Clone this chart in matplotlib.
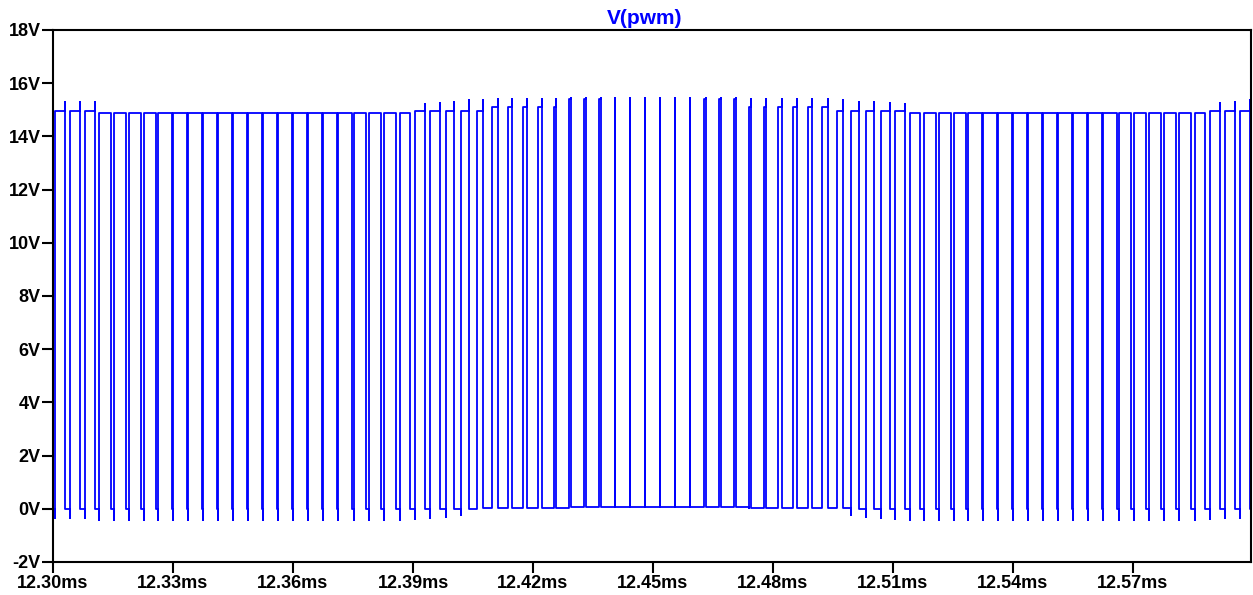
import matplotlib.pyplot as plt
import numpy as np

# waveform window (ms)
t_start = 12.30
t_stop = 12.5995

# switching edges of each pulse, us after t_start
t_rise = [0.53, 4.23, 7.94, 11.59, 15.25, 18.94, 22.66, 26.35, 30.06, 33.78,
          37.51, 41.24, 44.97, 48.72, 52.47, 56.24, 60.01, 63.78, 67.56, 71.37,
          75.18, 79.00, 82.83, 86.65, 90.49, 94.34, 98.20, 102.06, 105.91, 109.77,
          113.63, 117.49, 121.34, 125.18, 129.01, 132.81, 136.60, 140.39, 144.16, 147.91,
          151.66, 155.41, 159.14, 162.87, 166.58, 170.28, 173.97, 177.64, 181.32, 184.99,
          188.65, 192.31, 195.94, 199.58, 203.22, 206.88, 210.51, 214.15, 217.81, 221.46,
          225.14, 228.83, 232.53, 236.24, 239.97, 243.72, 247.47, 251.24, 255.01, 258.79,
          262.58, 266.39, 270.19, 274.00, 277.81, 281.61, 285.42, 289.23, 293.01, 296.80]
t_fall = [2.97, 6.78, 10.56, 14.41, 18.25, 22.06, 25.84, 29.65, 33.44, 37.23,
          40.99, 44.76, 48.53, 52.28, 56.03, 59.76, 63.49, 67.23, 70.94, 74.63,
          78.33, 82.00, 85.68, 89.35, 93.01, 96.66, 100.30, 103.94, 107.59, 111.23,
          114.87, 118.51, 122.16, 125.82, 129.49, 133.19, 136.90, 140.61, 144.34, 148.09,
          151.84, 155.59, 159.36, 163.13, 166.92, 170.73, 174.53, 178.36, 182.18, 186.01,
          189.85, 193.69, 197.56, 201.42, 205.28, 209.13, 212.99, 216.85, 220.69, 224.54,
          228.36, 232.17, 235.98, 239.76, 243.53, 247.28, 251.03, 254.76, 258.49, 262.21,
          265.92, 269.61, 273.31, 277.00, 280.69, 284.39, 288.08, 291.78, 295.49, 299.20]

# flat high level of each pulse (V)
v_top = [14.95] * 3 + [14.87] * 21 + [14.95] * 5 + [15.10] * 5 + [15.42] * 12 \
    + [15.10] * 6 + [14.95] * 5 + [14.87] * 20 + [14.95] * 3
# peak at turn-off (V)
v_spk = [15.30] * 3 + [14.87] * 21 + [15.20, 15.25, 15.30, 15.35, 15.38] \
    + [15.40] * 5 + [15.45] * 12 + [15.40] * 6 \
    + [15.35, 15.30, 15.28, 15.25, 15.20] + [14.87] * 20 + [15.25, 15.30, 15.35]
# flat low level after turn-off (V)
v_low = [0.0] * 28 + [0.04] * 6 + [0.08] * 12 + [0.04] * 7 + [0.0] * 27
# undershoot at turn-on (V)
v_dip = [-0.35] * 3 + [-0.43] * 21 + [-0.38, -0.35, -0.30, -0.25] \
    + [0.04] * 6 + [0.08] * 12 + [0.04] * 7 \
    + [-0.25, -0.30, -0.35, -0.38] + [-0.43] * 20 + [-0.38, -0.36, -0.35]

t = [0.0, 0.0]
v = [14.9, 0.0]
prev_low = 0.0
for r, f, vt, vs, vl, vd in zip(t_rise, t_fall, v_top, v_spk, v_low, v_dip):
    t += [r, r, r, f, f, f]
    v += [prev_low, vd, vt, vt, vs, vl]
    prev_low = vl
t.append((t_stop - t_start) * 1000)
v.append(prev_low)
t = np.array(t) / 1000 + t_start
v = np.array(v)

plt.rcParams['font.family'] = ['Liberation Sans', 'DejaVu Sans']
plt.rcParams['font.weight'] = 'bold'

fig = plt.figure(figsize=(12.53, 5.95), dpi=100)
ax = fig.add_axes([53 / 1253, 1 - 562 / 595, 1198 / 1253, 532 / 595])
ax.plot(t, v, color='#0000ff', lw=1.3)

ax.set_xlim(t_start, t_stop)
ax.set_ylim(-2, 18)
xt = [12.30, 12.33, 12.36, 12.39, 12.42, 12.45, 12.48, 12.51, 12.54, 12.57]
ax.set_xticks(xt)
ax.set_xticklabels(['%.2fms' % x for x in xt])
yt = list(range(-2, 19, 2))
ax.set_yticks(yt)
ax.set_yticklabels(['%dV' % y for y in yt])
ax.tick_params(direction='out', length=8, width=1.5, labelsize=13, pad=1)
for s in ax.spines.values():
    s.set_linewidth(1.5)
    s.set_color('black')

fig.text(645 / 1253, 1 - 18 / 595, 'V(pwm)', color='#0000ff', fontsize=15,
         fontweight='bold', ha='center', va='center')

plt.savefig('out.png', dpi=100)
